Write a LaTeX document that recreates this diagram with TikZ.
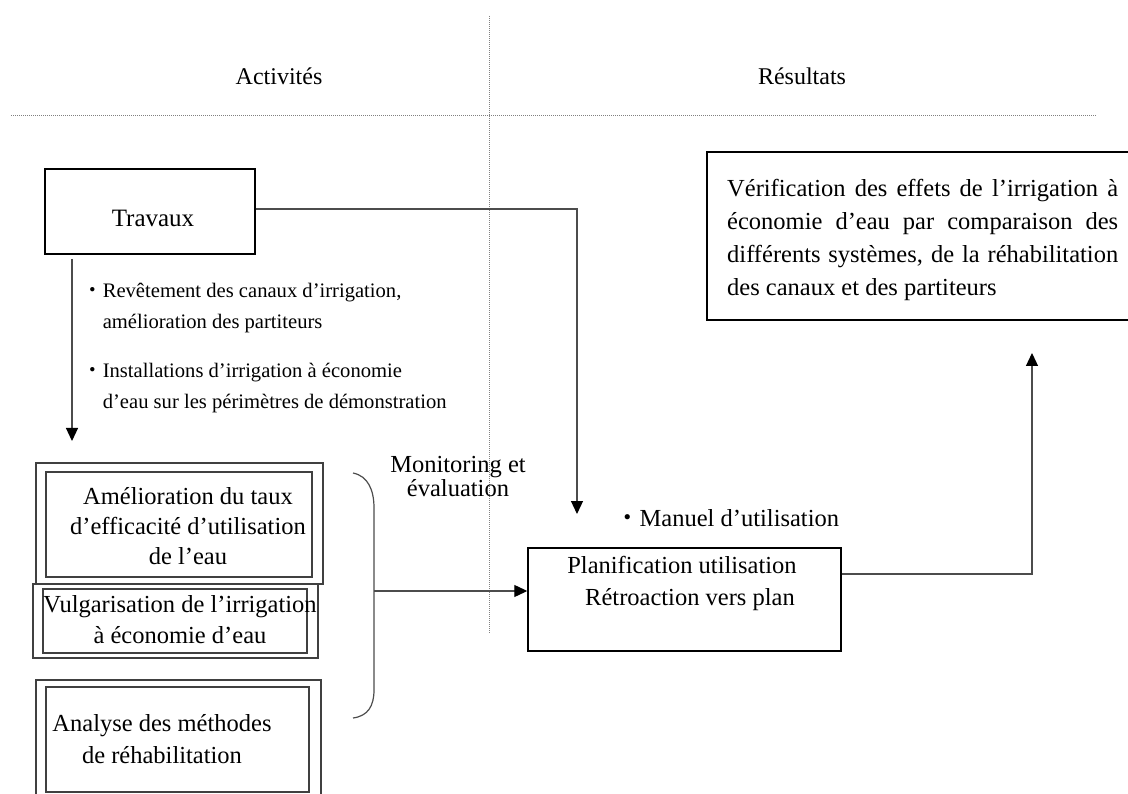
\documentclass[tikz,border=0pt]{standalone}
\usepackage{fontspec}
\setmainfont{Liberation Serif}
\newfontfamily\cjk{Noto Sans CJK JP}
\usetikzlibrary{arrows.meta}
\newcommand{\fsz}[2]{\fontsize{#1}{#2}\selectfont}
\newcommand{\bul}{{\cjk ・}}

\begin{document}
\begin{tikzpicture}[x=1pt,y=-1pt,
  box/.style={draw=black, line width=1.4pt, inner sep=0pt},
  dbox/.style={draw=black!75, line width=1.2pt, inner sep=0pt},
  lbl/.style={inner sep=0pt, font=\fsz{24.5}{31}, align=center},
  small/.style={inner sep=0pt, font=\fsz{20.6}{31}, align=left},
  conn/.style={draw=black!70, line width=1.2pt},
  arr/.style={conn, -{Triangle[width=12pt,length=13pt,color=black,fill=black]}},
  guide/.style={draw=black!50, line width=0.8pt, dash pattern=on 1pt off 1pt}]

\useasboundingbox (0,0) rectangle (1128,794);
\clip (0,0) rectangle (1128,794);

% column separators
\coordinate (vtop) at (489,16);
\coordinate (vbot) at (489,634);
\coordinate (hleft) at (11,115);
\coordinate (hright) at (1097,115);
\draw[guide] (vtop) -- (vbot);
\draw[guide] (hleft) -- (hright);

% column headings
\node[lbl, font=\fsz{24}{30}] (hact) at (279,76) {Activités};
\node[lbl, font=\fsz{24}{30}] (hres) at (802,76) {Résultats};

% works
\node[box, minimum width=210pt, minimum height=85pt] (trav) at (150,211.5) {};
\node[lbl, font=\fsz{25}{31}] (travtxt) at (153,218) {Travaux};

\node[small, anchor=west] (b1) at (82,308.5)
  {\bul Revêtement des canaux d’irrigation,\\
   \hphantom{\bul}amélioration des partiteurs};
\node[small, anchor=west] (b2) at (82,388)
  {\bul Installations d’irrigation à économie\\
   \hphantom{\bul}d’eau sur les périmètres de démonstration};

% activity boxes
\node[dbox, minimum width=287pt, minimum height=121pt] (aout) at (179.5,523.5) {};
\node[dbox, minimum width=266pt, minimum height=105pt] (ain) at (179,524.5) {};
\node[lbl, font=\fsz{24.5}{30}] (atxt) at (188,526)
  {Amélioration du taux\\d'efficacité d’utilisation\\de l’eau};

\node[dbox, minimum width=285pt, minimum height=74pt] (bout) at (175.5,621) {};
\node[dbox, minimum width=264pt, minimum height=64pt] (bin) at (175,621) {};
\node[lbl] (btxt) at (180,619.5)
  {Vulgarisation de l’irrigation\\à économie d’eau};

\node[dbox, minimum width=285pt, minimum height=130pt] (cout) at (178.5,745) {};
\node[dbox, minimum width=263pt, minimum height=105pt] (cin) at (177.5,739.5) {};
\node[lbl, font=\fsz{24.5}{32}] (ctxt) at (162,739)
  {Analyse des méthodes\\de réhabilitation};

% monitoring brace
\draw[draw=black!70, line width=1.2pt]
  (353,473) .. controls (368,476) and (374,490) .. (374,508)
  -- (374,690) .. controls (374,706) and (368,716) .. (353,718);
\coordinate (bracemid) at (374,591);
\node[lbl, font=\fsz{24.5}{24}] (moni) at (458,477) {Monitoring et\\évaluation};

% planning
\node[box, minimum width=313pt, minimum height=103pt] (plan) at (684.5,599.5) {};
\node[lbl, font=\fsz{24.5}{32}] (plantxt) at (682,583)
  {Planification utilisation\\\hspace*{16pt}Rétroaction vers plan};
\node[lbl, anchor=west] (manuel) at (615,518) {\bul Manuel d’utilisation};

% results
\node[box, minimum width=433pt, minimum height=168pt] (res) at (923.5,236) {};
\node[lbl, font=\fsz{24.5}{32.7}, align=left, anchor=west] (restxt) at (727,240)
  {\makebox[391pt][s]{Vérification des effets de l’irrigation à}\\
   \makebox[391pt][s]{économie d’eau par comparaison des}\\
   \makebox[391pt][s]{différents systèmes, de la réhabilitation}\\
   des canaux et des partiteurs};

% connectors
\coordinate (downstart) at (72,259);
\coordinate (downtip) at (72,441);
\draw[arr] (downstart) -- (downtip);

\coordinate (droptip) at (577,514);
\draw[arr] ([yshift=2.5pt]trav.east) -| (droptip);

\draw[arr] (bracemid) -- (bracemid -| plan.west);

\coordinate (uptip) at (1032,353);
\draw[arr] ([yshift=25.5pt]plan.east) -| (uptip);

\end{tikzpicture}
\end{document}
